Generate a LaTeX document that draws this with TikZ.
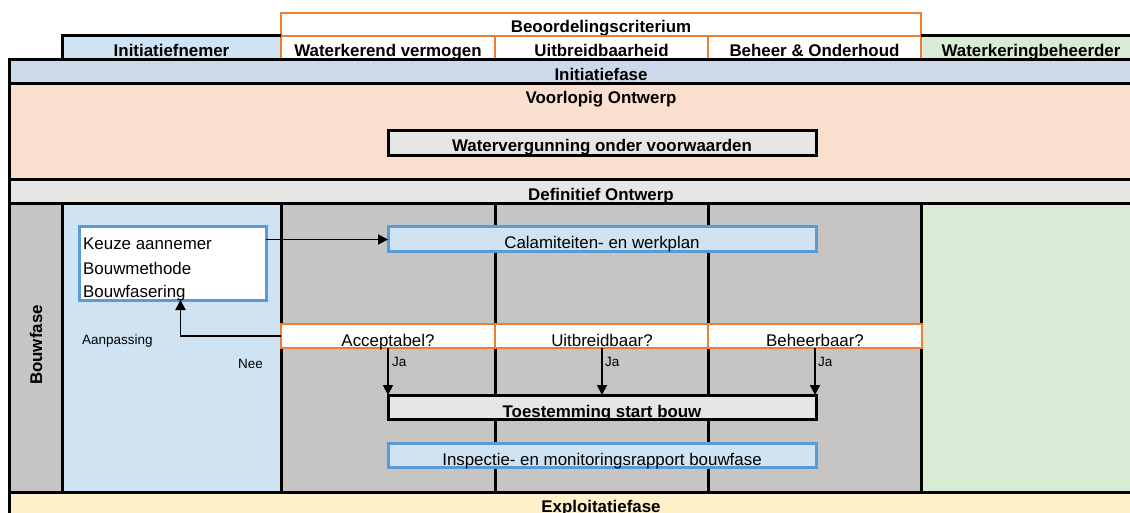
\documentclass[tikz,border=0pt]{standalone}
\usepackage{fontspec}
\setmainfont{Liberation Sans}
\usetikzlibrary{arrows.meta}
\definecolor{cInit}{RGB}{207,227,242}
\definecolor{cPhase}{RGB}{204,217,234}
\definecolor{cVO}{RGB}{250,222,206}
\definecolor{cDO}{RGB}{230,231,229}
\definecolor{cGray}{RGB}{198,197,195}
\definecolor{cGreen}{RGB}{217,235,212}
\definecolor{cExpl}{RGB}{254,240,200}
\definecolor{cOrange}{RGB}{237,125,49}
\definecolor{cBlue}{RGB}{91,155,213}
\newcommand{\myreg}{\fontsize{16.9}{20}\selectfont}
\newcommand{\mybold}{\fontsize{16.9}{20}\selectfont\bfseries}
\newcommand{\mysmall}{\fontsize{13.5}{16}\selectfont}
\begin{document}
\begin{tikzpicture}[x=1pt,y=-1pt,
  blk/.style={line width=3pt, black},
  org/.style={line width=2.5pt, draw=cOrange},
  tb/.style={font=\mybold, inner sep=0pt, anchor=base},
  tr/.style={font=\myreg, inner sep=0pt, anchor=base},
  ts/.style={font=\mysmall, inner sep=0pt},
  box/.style={rectangle, inner sep=0pt, outer sep=0pt, line width=3pt, anchor=north west},
  ocell/.style={rectangle, inner sep=0pt, outer sep=0pt, line width=2.5pt, draw=cOrange, fill=white,
     anchor=north west, minimum width=214pt, minimum height=24pt, text height=22pt, text depth=2pt, font=\myreg},
  arr/.style={line width=1.9pt, -{Triangle[length=10pt,width=10pt]}},
]
\useasboundingbox (0,0) rectangle (1130,513);
\clip (0,0) rectangle (1130,513);
% fills
\fill[cInit] (62,36) rectangle (281,60);
\fill[cGreen] (921,36) rectangle (1130,60);
\fill[cPhase] (9,60) rectangle (1130,84);
\fill[cVO] (9,84) rectangle (1130,180);
\fill[cDO] (9,180) rectangle (1130,204);
\fill[cGray] (9,204) rectangle (62,492);
\fill[cInit] (62,204) rectangle (281,492);
\fill[cGray] (281,204) rectangle (921,492);
\fill[cGreen] (921,204) rectangle (1130,492);
\fill[cExpl] (9,492) rectangle (1130,513);
% header texts
\node[tb] (crit) at (601,33) {Beoordelingscriterium};
\node[tb] (hinit) at (171.5,57) {Initiatiefnemer};
\node[tb] (hwat) at (388,57) {Waterkerend vermogen};
\node[tb] (huit) at (601.5,57) {Uitbreidbaarheid};
\node[tb] (hbeh) at (814.5,57) {Beheer \& Onderhoud};
\node[tb] (hwkb) at (1031,57) {Waterkeringbeheerder};
% row texts
\node[tb] (pinit) at (601,81) {Initiatiefase};
\node[tb] (pvo) at (601,104) {Voorlopig Ontwerp};
\node[tb] (pdo) at (601,201) {Definitief Ontwerp};
\node[tb] (pexp) at (601,512) {Exploitatiefase};
\node[tb, rotate=90] (pbouw) at (42,345) {Bouwfase};
% orange header frame
\draw[org] (281,60) -- (281,13) -- (921,13) -- (921,60);
\draw[org] (281,36) -- (921,36);
\draw[org] (495,36) -- (495,60);
\draw[org] (708,36) -- (708,60);
% black lines
\draw[blk] (62,60) -- (62,36) -- (281,36);
\draw[blk] (921,36) -- (1130,36);
\draw[blk] (9,513) -- (9,60) -- (1130,60);
\draw[blk] (9,84) -- (1130,84);
\draw[blk] (9,180) -- (1130,180);
\draw[blk] (9,204) -- (1130,204);
\draw[blk] (9,492) -- (1130,492);
\foreach \x in {62,281,495,708,921} \draw[blk] (\x,204) -- (\x,492);
% boxes
\node[box, draw=black, fill=cDO, minimum width=428pt, minimum height=25pt, text height=21pt, text depth=4pt, font=\mybold] (wvg) at (388,131) {Watervergunning onder voorwaarden};
\node[box, draw=cBlue, fill=white, minimum width=187pt, minimum height=73pt] (k) at (79,227) {};
\node[tr, anchor=base west] (k1) at (83,250) {Keuze aannemer};
\node[tr, anchor=base west] (k2) at (83,274) {Bouwmethode};
\node[tr, anchor=base west] (k3) at (83,297) {Bouwfasering};
\node[box, draw=cBlue, fill=cInit, minimum width=428pt, minimum height=25pt, text height=22pt, text depth=3pt, font=\myreg] (cal) at (388,227) {Calamiteiten- en werkplan};
\node[ocell] (acc) at (281,324) {Acceptabel?};
\node[ocell] (uit) at (495,324) {Uitbreidbaar?};
\node[ocell] (beh) at (708,324) {Beheerbaar?};
\node[box, draw=black, fill=cDO, minimum width=428pt, minimum height=24pt, text height=22pt, text depth=2pt, font=\mybold] (toe) at (388,395) {Toestemming start bouw};
\node[box, draw=cBlue, fill=cInit, minimum width=428pt, minimum height=24pt, text height=22pt, text depth=2pt, font=\myreg] (insp) at (388,443) {Inspectie- en monitoringsrapport bouwfase};
% small labels
\node[ts, anchor=base west] (aanp) at (82,344) {Aanpassing};
\node[ts, anchor=base east] (nee) at (263,368) {Nee};
\node[ts, anchor=base west] (ja1) at (392,366) {Ja};
\node[ts, anchor=base west] (ja2) at (605,366) {Ja};
\node[ts, anchor=base west] (ja3) at (818,366) {Ja};
% arrows
\draw[arr] (k.east |- cal.west) -- (cal.west);
\draw[arr] (acc.west) -| ([xshift=8pt]k.south);
\draw[arr] (acc.south) -- (acc.south |- toe.north);
\draw[arr] (uit.south) -- (uit.south |- toe.north);
\draw[arr] (beh.south) -- (beh.south |- toe.north);
\end{tikzpicture}
\end{document}
